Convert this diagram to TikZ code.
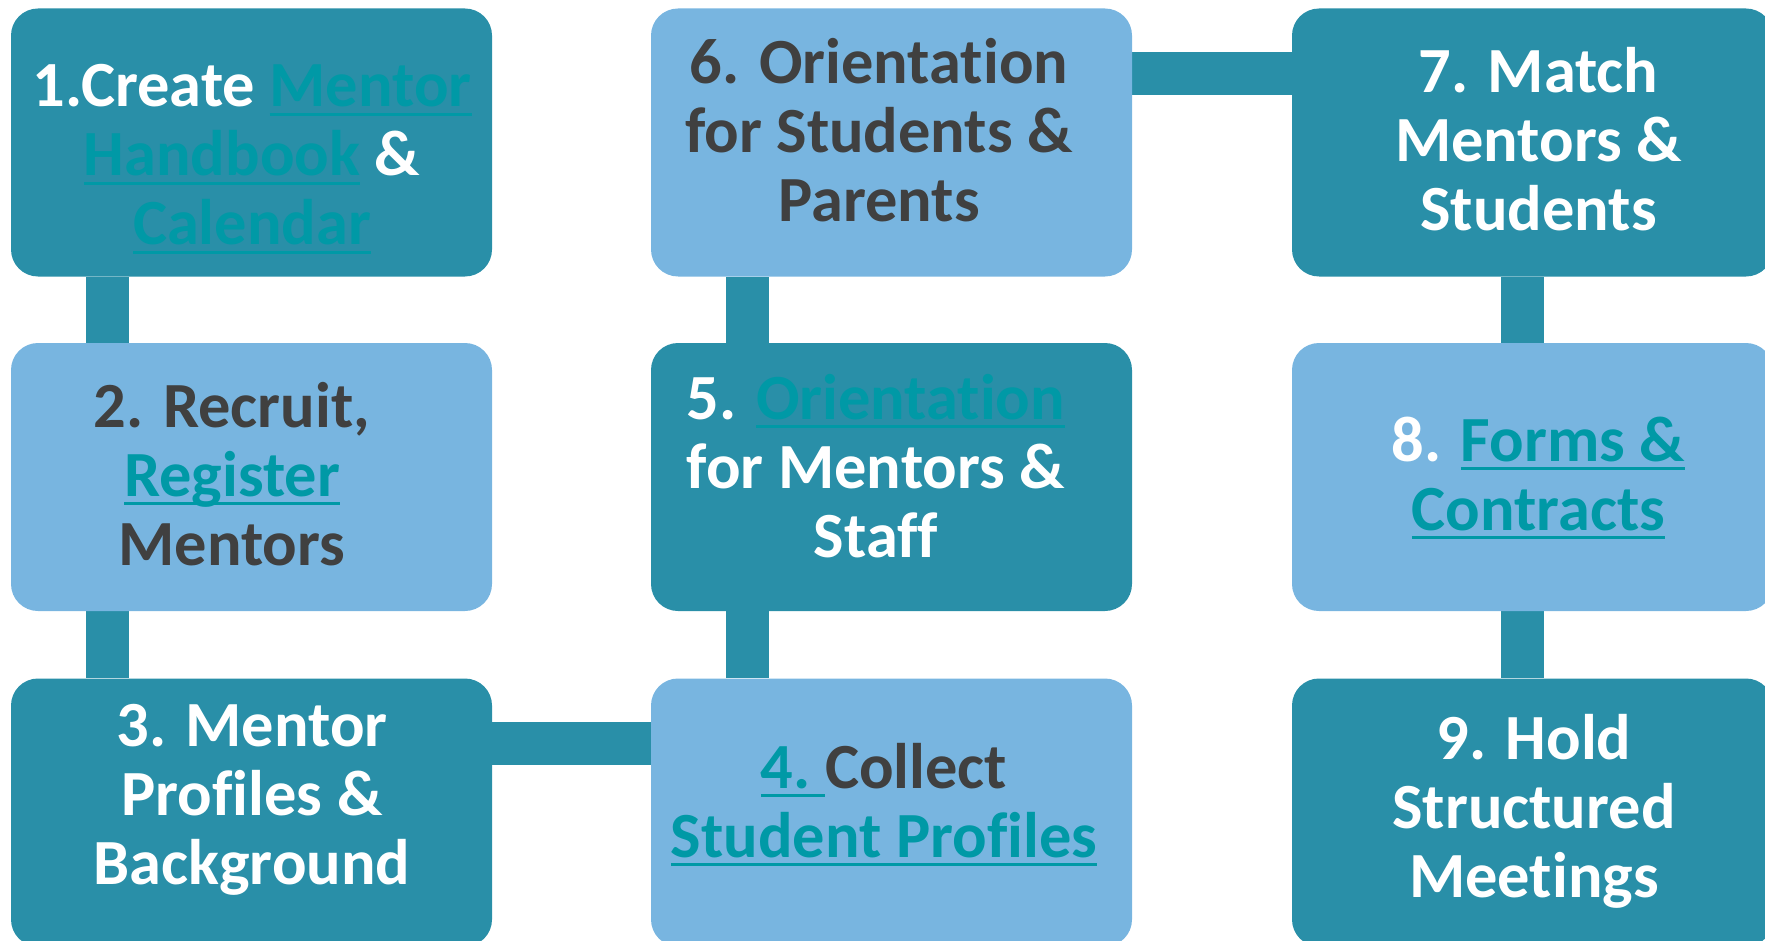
\documentclass[tikz,border=0pt]{standalone}
\usepackage{fontspec}
\setmainfont{Carlito}[RawFeature={-liga;-clig;-calt;-dlig}]
\usetikzlibrary{backgrounds}
\definecolor{darkbox}{HTML}{298FA8}
\definecolor{lightbox}{HTML}{78B5E0}
\definecolor{darktext}{HTML}{404040}
\definecolor{lnk}{HTML}{0099A6}
\newcommand\lk[1]{\begingroup\color{lnk}\setbox0\hbox{#1}\rlap{\rule[-4.6pt]{\wd0}{1.7pt}}\box0\relax\endgroup}
\tikzset{
  box/.style={rectangle, rounded corners=13.5pt, minimum width=240.5pt, minimum height=134pt, inner sep=0pt},
  darkb/.style={box, fill=darkbox},
  lightb/.style={box, fill=lightbox},
  txt/.style={anchor=base, inner sep=0pt, font=\bfseries\fontsize{32.2}{34.5}\selectfont},
  conn/.style={draw=darkbox, line width=21.5pt}
}
\begin{document}
\begin{tikzpicture}[x=0.5pt,y=-0.5pt]
\useasboundingbox (0,0) rectangle (1765,941);
% boxes
\node[darkb]  (b1) at (251.5,142.5) {};
\node[lightb] (b2) at (251.5,477) {};
\node[darkb]  (b3) at (251.5,812.5) {};
\node[lightb] (b4) at (891.5,812.5) {};
\node[darkb]  (b5) at (891.5,477) {};
\node[lightb] (b6) at (891.5,142.5) {};
\node[darkb]  (b7) at (1532.5,142.5) {};
\node[lightb] (b8) at (1532.5,477) {};
\node[darkb]  (b9) at (1532.5,812.5) {};
% connectors
\begin{scope}[on background layer]
\draw[conn] ([xshift=48.5pt]b1.south west) -- ([xshift=48.5pt]b2.north west);
\draw[conn] ([xshift=48.5pt]b2.south west) -- ([xshift=48.5pt]b3.north west);
\draw[conn] ([yshift=-32.5pt]b3.north east) -- ([yshift=-32.5pt]b4.north west);
\draw[conn] ([xshift=48.5pt]b4.north west) -- ([xshift=48.5pt]b5.south west);
\draw[conn] ([xshift=48.5pt]b5.north west) -- ([xshift=48.5pt]b6.south west);
\draw[conn] ([yshift=-32.75pt]b6.north east) -- ([yshift=-32.75pt]b7.north west);
\draw[conn] ([xshift=115.5pt]b7.south west) -- ([xshift=115.5pt]b8.north west);
\draw[conn] ([xshift=115.5pt]b8.south west) -- ([xshift=115.5pt]b9.north west);
\end{scope}
% texts
\node[txt, text=white] (t1) at (252,107) {\begin{tabular}[t]{@{}c@{}}1.Create \lk{Mentor}\\ \lk{Handbook} \&\\ \lk{Calendar}\end{tabular}};
\node[txt, text=darktext] (t2) at (232,427) {\begin{tabular}[t]{@{}c@{}}2. Recruit,\\ \lk{Register}\\ Mentors\end{tabular}};
\node[txt, text=white] (t3) at (252,746) {\begin{tabular}[t]{@{}c@{}}3. Mentor\\ Profiles \&\\ Background\end{tabular}};
\node[txt, text=darktext] (t4) at (884,788) {\begin{tabular}[t]{@{}c@{}}\lk{4.\ }Collect\\ \lk{Student Profiles}\end{tabular}};
\node[txt, text=white] (t5) at (876,419) {\begin{tabular}[t]{@{}c@{}}5. \lk{Orientation}\\ for Mentors \&\\ Staff\end{tabular}};
\node[txt, text=darktext] (t6) at (879,84) {\begin{tabular}[t]{@{}c@{}}6. Orientation\\ for Students \&\\ Parents\end{tabular}};
\node[txt, text=white] (t7) at (1538.5,93) {\begin{tabular}[t]{@{}c@{}}7. Match\\ Mentors \&\\ Students\end{tabular}};
\node[txt, text=white] (t8) at (1538.5,461) {\begin{tabular}[t]{@{}c@{}}8. \lk{Forms \&}\\ \lk{Contracts}\end{tabular}};
\node[txt, text=white] (t9) at (1534,759) {\begin{tabular}[t]{@{}c@{}}9. Hold\\ Structured\\ Meetings\end{tabular}};
\end{tikzpicture}
\end{document}
